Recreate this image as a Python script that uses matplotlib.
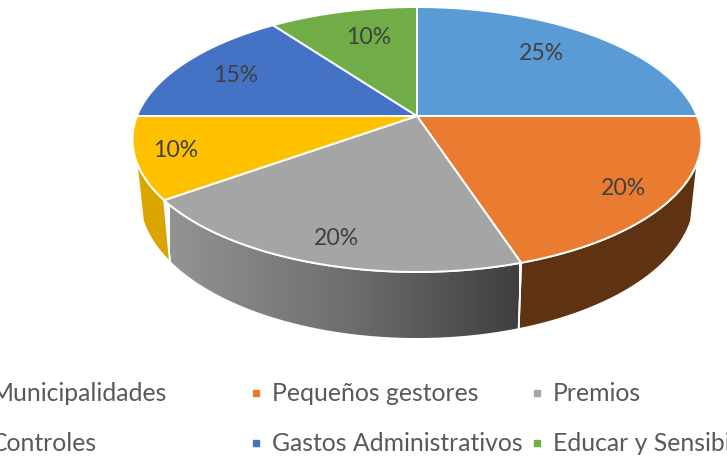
import numpy as np
import matplotlib
matplotlib.use("Agg")
import matplotlib.pyplot as plt
from matplotlib.colors import LinearSegmentedColormap
from matplotlib.patches import Polygon

categories = ["Municipalidades", "Pequeños gestores", "Premios",
              "Controles", "Gastos Administrativos", "Educar y Sensibilizar"]
shares = [25, 20, 20, 10, 15, 10]
top_colors = ["#5B9BD5", "#E97C30", "#A5A5A5", "#FFC000", "#4472C4", "#70AD47"]
wall_colors = ["#3A6186", "#5F3311", None, "#DBA500", "#2B4779", "#466D2C"]
label_xy = [(541, 53), (623, 188), (336, 238), (176, 150), (236, 75), (369, 38)]
legend_x = [-9, 272, 553]
legend_y = [393, 443]

plt.rcParams["font.family"] = ["Lato", "DejaVu Sans"]

fig = plt.figure(figsize=(7.27, 4.61), dpi=100)
ax = fig.add_axes([0, 0, 1, 1])
ax.axis("off")


def project(theta, lid=True):
    """Perspective projection of a disc point; theta runs counter-clockwise."""
    s, c = np.sin(theta), np.cos(theta)
    d = 1 + 0.1774 * s
    if lid:
        return 417 + 280 * c / d, 116 - 128.3 * s / d
    return 417 + 273.5 * c / d, 172 - 137.3 * s / d


fractions = np.cumsum([0] + shares) / sum(shares)
starts = np.pi / 2 - 2 * np.pi * fractions[:-1]
ends = np.pi / 2 - 2 * np.pi * fractions[1:]

# Side walls: the silhouette leaves the rim a little below the widest point.
rim_cut = 0.34
gradient = LinearSegmentedColormap.from_list("wall", ["#939393", "#6f6f6f", "#3f3f3f"])
for a, b, wall in zip(starts, ends, wall_colors):
    a2, b2 = min(a, -rim_cut), max(b, -np.pi + rim_cut)
    if a2 <= b2:
        continue
    t = np.linspace(a2, b2, 120)
    xt, yt = project(t, True)
    xb, yb = project(t, False)
    pts = np.column_stack([np.r_[xt, xb[::-1]], np.r_[yt, yb[::-1]]])
    if wall is None:
        poly = Polygon(pts, closed=True, fc="none", ec="none", transform=ax.transData)
        ax.add_patch(poly)
        im = ax.imshow(np.linspace(0, 1, 256)[None, :], cmap=gradient, aspect="auto",
                       extent=(xb.min(), xb.max(), 345, 190), zorder=1)
        im.set_clip_path(poly)
        ax.add_patch(Polygon(pts, closed=True, fc="none", ec="white", lw=1.3, zorder=2))
    else:
        ax.add_patch(Polygon(pts, closed=True, fc=wall, ec="white", lw=1.3, zorder=2))

# Top face of the pie.
for a, b, color in zip(starts, ends, top_colors):
    t = np.linspace(a, b, 160)
    x, y = project(t, True)
    pts = np.column_stack([np.r_[417, x], np.r_[116, y]])
    ax.add_patch(Polygon(pts, closed=True, fc=color, ec="white", lw=1.4, zorder=3,
                         joinstyle="round"))

# Percentage labels.
for value, (x, y) in zip(shares, label_xy):
    ax.text(x, y, f"{value}%", ha="center", va="center", fontsize=16.6,
            color="#404040", zorder=4)

# Legend, two rows of three entries.
for i, (name, color) in enumerate(zip(categories, top_colors)):
    x = legend_x[i % 3]
    y = legend_y[i // 3]
    ax.text(x, y, name, ha="left", va="center", fontsize=17.8, color="#595959", zorder=4)
    ax.plot([x - 16], [y], marker="s", ms=4.6, mfc=color, mec=color, ls="none", zorder=4)

ax.set_xlim(0, 727)
ax.set_ylim(461, 0)
fig.savefig("out.png", dpi=100, facecolor="white")
